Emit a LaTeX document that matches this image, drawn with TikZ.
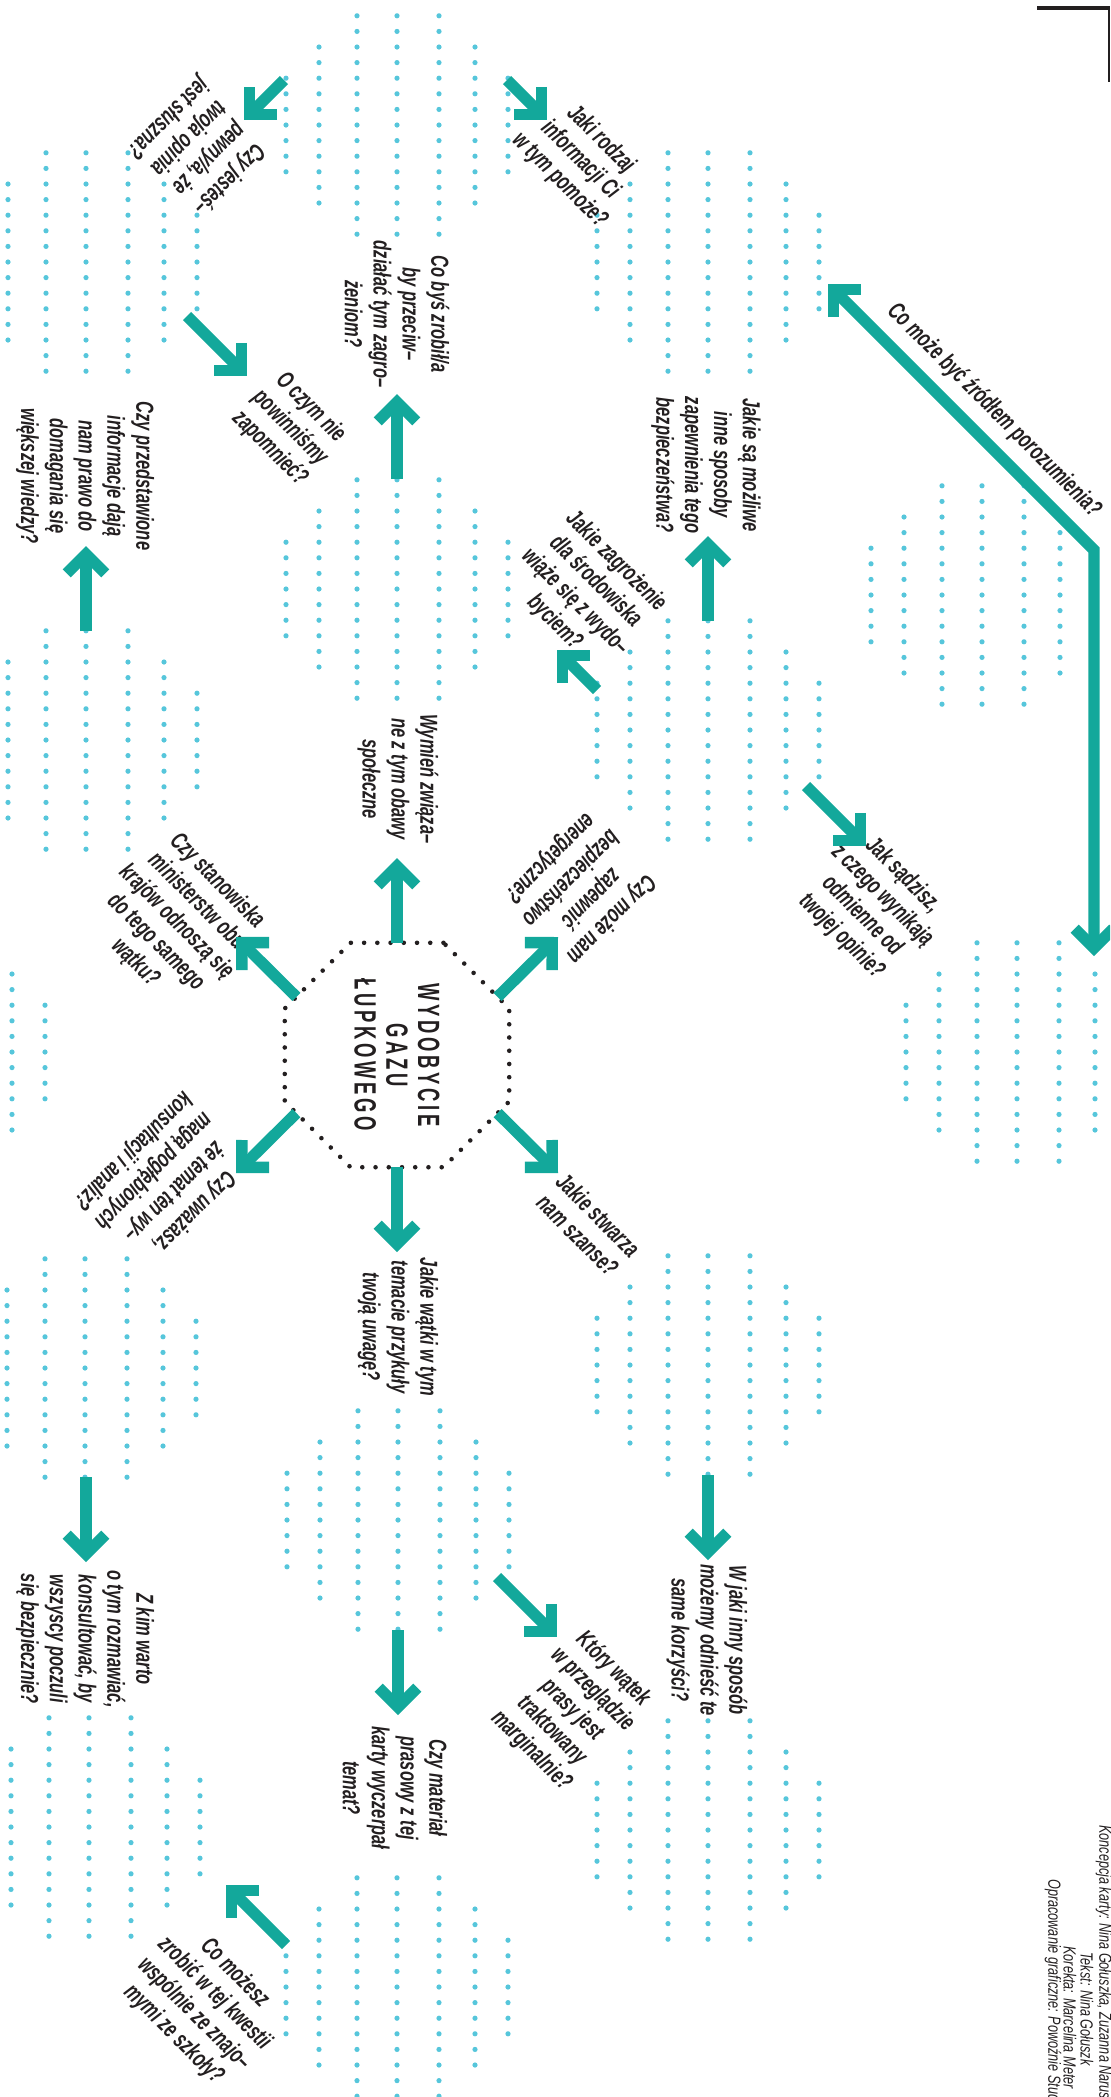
\documentclass[tikz,border=0pt]{standalone}
\usepackage{fontspec}
\setmainfont{Liberation Sans}[FakeStretch=0.67]
\newfontfamily\titlefont{Liberation Sans}[FakeStretch=0.6,LetterSpace=12]
\newfontfamily\creditfont{Liberation Sans}[FakeStretch=0.72]
\usetikzlibrary{arrows.meta,shapes.geometric}
\definecolor{ink}{HTML}{231F20}
\definecolor{morski}{HTML}{13A89B}
\definecolor{kropka}{HTML}{56C6DB}
\newcommand\kropki[3][-111/3,-78/5,-40/7,0/7,42/7,78/5,111/3]{%
  \foreach \dx/\n in {#1}{%
    \foreach \k in {-\n,...,\n}{%
      \fill[kropka] (#2+\dx,#3+15.6*\k) circle (2.6);}}}
\tikzset{
  pytanie/.style  = { align=center, inner sep=0pt, text=ink, font=\bfseries\itshape\fontsize{14}{16.4}\selectfont },
  tytul/.style    = { align=center, inner sep=0pt, text=ink, font=\titlefont\bfseries\fontsize{17.5}{18.1}\selectfont },
  stopka/.style   = { inner sep=0pt, text=ink, anchor=west, rotate=-90, font=\creditfont\itshape\fontsize{10}{10}\selectfont },
  osmiokat/.style = { regular polygon, regular polygon sides=8, minimum size=4.86cm, inner sep=0pt, outer sep=0pt,
                      draw=ink, line width=2.6pt, line cap=round, dash pattern=on 0pt off 7.53pt },
  strzalka/.style = { draw=morski, line width=6.5pt, line join=miter, -{Straight Barb[length=11pt,width=22pt,sharp]} },
  dwustronna/.style = { strzalka, {Straight Barb[length=11pt,width=22pt,sharp]}-{Straight Barb[length=11pt,width=22pt,sharp]} }
}
\begin{document}
\begin{tikzpicture}[x=0.02cm, y=-0.02cm]
\useasboundingbox (0,0) rectangle (1110,2097);
\clip (0,0) rectangle (1110,2097);

\kropki{397}{125}
\kropki{86}{262}
\kropki{708}{262}
\kropki{397}{589}
\kropki[-111/3,-78/5,-40/7,0/7,42/7,78/5]{982}{595}
\kropki{86}{740}
\kropki{708}{730}
\kropki{-66}{1052}
\kropki{1017}{1052}
\kropki{85}{1368}
\kropki{708}{1365}
\kropki{398}{1520}
\kropki{89}{1827}
\kropki{708}{1830}
\kropki{397}{1987}

\node[osmiokat] (gaz) at (397,1055) {};
\node[tytul, rotate=-90] (haslo) at (gaz) {WYDOBYCIE\\GAZU\\ŁUPKOWEGO};

\node[pytanie, rotate=-135] (pewny) at (198,148) {Czy jesteś–\\pewny/a, że\\twoja opinia\\jest słuszna?};
\node[pytanie, rotate=-45] (rodzaj) at (580,160) {Jaki rodzaj\\informacji Ci\\w tym pomoże?};
\node[pytanie, rotate=-90] (przeciw) at (397,314) {Co byś zrobił/a\\by przeciw–\\działać tym zagro–\\żeniom?};
\node[pytanie, rotate=-45] (zapomniec) at (290,428) {O czym nie\\powinniśmy\\zapomnieć?};
\node[pytanie, rotate=-90] (wiedza) at (85,476) {Czy przedstawione\\informacje dają\\nam prawo do\\domagania się\\większej wiedzy?};
\node[pytanie, rotate=-90] (sposoby) at (706,465) {Jakie są możliwe\\inne sposoby\\zapewnienia tego\\bezpieczeństwa?};
\node[pytanie, rotate=-45] (zagrozenie) at (585,592) {Jakie zagrożenie\\dla środowiska\\wiąże się z wydo–\\byciem?};
\node[pytanie, rotate=-90] (obawy) at (398,779) {Wymień związa–\\ne z tym obawy\\społeczne};
\node[pytanie, rotate=-135] (energia) at (580,888) {Czy może nam\\zapewnić\\bezpieczeństwo\\energetyczne?};
\node[pytanie, rotate=-45] (opinie) at (872,906) {Jak sądzisz,\\z czego wynikają\\odmienne od\\twojej opinie?};
\node[pytanie, rotate=-45] (ministerstwa) at (176,922) {Czy stanowiska\\ministerstw obu\\krajów odnoszą się\\do tego samego\\wątku?};
\node[pytanie, rotate=-135] (konsultacje) at (163,1181) {Czy uważasz,\\że temat ten wy–\\magą pogłębionych\\konsultacji i analiz?};
\node[pytanie, rotate=-45] (szanse) at (588,1225) {Jakie stwarza\\nam szanse?};
\node[pytanie, rotate=-90] (watki) at (398,1327) {Jakie wątki w tym\\temacie przykuły\\twoją uwagę?};
\node[pytanie, rotate=-90] (korzysci) at (707,1640) {W jaki inny sposób\\możemy odnieść te\\same korzyści?};
\node[pytanie, rotate=-90] (rozmowa) at (85,1639) {Z kim warto\\o tym rozmawiać,\\konsultować, by\\wszyscy poczuli\\się bezpiecznie?};
\node[pytanie, rotate=-45] (marginalnie) at (572,1710) {Który wątek\\w przeglądzie\\prasy jest\\traktowany\\marginalnie?};
\node[pytanie, rotate=-90] (material) at (395,1788) {Czy materiał\\prasowy z tej\\karty wyczerpał\\temat?};
\node[pytanie, rotate=-45] (szkola) at (204,2004) {Co możesz\\zrobić w tej kwestii\\wspólnie ze znajo–\\mymi ze szkoły?};

\coordinate (d-obawy) at (397,858);
\coordinate (d-watki) at (397,1252);
\coordinate (d-energia) at (558,937);
\coordinate (d-szanse) at (558,1173);
\coordinate (d-ministerstwa) at (236,937);
\coordinate (d-konsultacje) at (236,1173);
\draw[strzalka] (gaz.90) -- (d-obawy);
\draw[strzalka] (gaz.270) -- (d-watki);
\draw[strzalka] (gaz.30) -- (d-energia);
\draw[strzalka] (gaz.-30) -- (d-szanse);
\draw[strzalka] (gaz.150) -- (d-ministerstwa);
\draw[strzalka] (gaz.210) -- (d-konsultacje);

\coordinate (z-pewny) at (284,80);
\coordinate (d-pewny) at (244,120);
\coordinate (z-rodzaj) at (507,80);
\coordinate (d-rodzaj) at (547,120);
\coordinate (z-zapomniec) at (187,316);
\coordinate (d-zapomniec) at (247,376);
\coordinate (z-przeciw) at (397,479);
\coordinate (d-przeciw) at (397,394);
\coordinate (z-wiedza) at (86,631);
\coordinate (d-wiedza) at (86,546);
\coordinate (z-sposoby) at (708,621);
\coordinate (d-sposoby) at (708,536);
\coordinate (z-zagrozenie) at (597,690);
\coordinate (d-zagrozenie) at (557,650);
\coordinate (z-opinie) at (806,786);
\coordinate (d-opinie) at (866,846);
\coordinate (z-rozmowa) at (86,1477);
\coordinate (d-rozmowa) at (86,1562);
\coordinate (z-korzysci) at (708,1475);
\coordinate (d-korzysci) at (708,1560);
\coordinate (z-marginalnie) at (497,1577);
\coordinate (d-marginalnie) at (557,1637);
\coordinate (z-material) at (398,1630);
\coordinate (d-material) at (398,1715);
\coordinate (z-szkola) at (286,1945);
\coordinate (d-szkola) at (226,1885);
\draw[strzalka] (z-pewny) -- (d-pewny);
\draw[strzalka] (z-rodzaj) -- (d-rodzaj);
\draw[strzalka] (z-zapomniec) -- (d-zapomniec);
\draw[strzalka] (z-przeciw) -- (d-przeciw);
\draw[strzalka] (z-wiedza) -- (d-wiedza);
\draw[strzalka] (z-sposoby) -- (d-sposoby);
\draw[strzalka] (z-zagrozenie) -- (d-zagrozenie);
\draw[strzalka] (z-opinie) -- (d-opinie);
\draw[strzalka] (z-rozmowa) -- (d-rozmowa);
\draw[strzalka] (z-korzysci) -- (d-korzysci);
\draw[strzalka] (z-marginalnie) -- (d-marginalnie);
\draw[strzalka] (z-material) -- (d-material);
\draw[strzalka] (z-szkola) -- (d-szkola);

\coordinate (zrodlo) at (828,284);
\coordinate (zagiecie) at (1094,550);
\coordinate (cel) at (1094,956);
\draw[dwustronna] (zrodlo) -- node[pytanie, sloped, above=6pt, pos=0.55] (porozumienie) {Co może być źródłem porozumienia?} (zagiecie) -- (cel);

\draw[ink, line width=2.3pt] (1037,8) -- (1110,8);
\draw[ink, line width=1.1pt] (1109,8) -- (1109,82);

\node[stopka] (koncepcja) at (1104,1825) {Koncepcja karty: Nina Gołuszka, Zuzanna Naruszewic};
\node[stopka] (tekst) at (1087,1952) {Tekst: Nina Gołuszk};
\node[stopka] (korekta) at (1070,1946) {Korekta: Marcelina Meter};
\node[stopka] (grafika) at (1053,1879) {Opracowanie graficzne: Powoźnie Studi};
\end{tikzpicture}
\end{document}
